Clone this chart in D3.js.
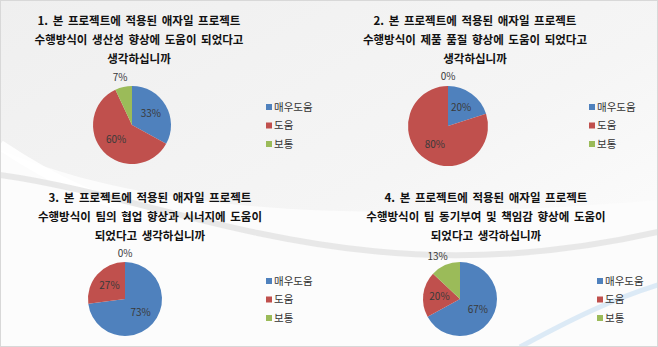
<!DOCTYPE html>
<html>
<head>
<meta charset="utf-8">
<script src="https://cdn.jsdelivr.net/npm/d3@7/dist/d3.min.js"></script>
<style>
html,body{margin:0;padding:0;background:#fff;}
svg{display:block;}
</style>
</head>
<body>
<svg id="chart" width="658" height="347"></svg>
<script>
// ---- data ----
const categories = ["매우도움", "도움", "보통"];
const colors = ["#4F81BD", "#C0504D", "#9BBB59"];
const title1 = ["1. 본 프로젝트에 적용된 애자일 프로젝트", "수행방식이 생산성 향상에 도움이 되었다고", "생각하십니까"];
const title2 = ["2. 본 프로젝트에 적용된 애자일 프로젝트", "수행방식이 제품 품질 향상에 도움이 되었다고", "생각하십니까"];
const title3 = ["3. 본 프로젝트에 적용된 애자일 프로젝트", "수행방식이 팀의 협업 향상과 시너지에 도움이", "되었다고 생각하십니까"];
const title4 = ["4. 본 프로젝트에 적용된 애자일 프로젝트", "수행방식이 팀 동기부여 및 책임감 향상에 도움이", "되었다고 생각하십니까"];
const values1 = [33, 60, 7];
const values2 = [20, 80, 0];
const values3 = [73, 27, 0];
const values4 = [67, 20, 13];

// ---- layout (positions only) ----
const panels = [
  {title: title1, values: values1, cx: 132, cy: 125, r: 39, tx: 139, ty: 25, lx: 266, ly: 107},
  {title: title2, values: values2, cx: 448, cy: 126, r: 40, tx: 475, ty: 25, lx: 589, ly: 107},
  {title: title3, values: values3, cx: 125, cy: 299, r: 37, tx: 150, ty: 202, lx: 266, ly: 281},
  {title: title4, values: values4, cx: 460, cy: 299, r: 37, tx: 486, ty: 202, lx: 597, ly: 281}
];

const svg = d3.select("#chart");
const W = 658, H = 347;

// ---- background ----
const defs = svg.append("defs");
const g1 = defs.append("linearGradient").attr("id", "bg").attr("x1", 0).attr("y1", 0).attr("x2", 1).attr("y2", 1);
g1.append("stop").attr("offset", "0%").attr("stop-color", "#efefef");
g1.append("stop").attr("offset", "55%").attr("stop-color", "#f5f5f5");
g1.append("stop").attr("offset", "100%").attr("stop-color", "#ffffff");
svg.append("rect").attr("width", W).attr("height", H).attr("fill", "url(#bg)");
svg.append("path")
  .attr("d", "M0,150 C120,200 300,230 658,200 L658,347 L0,347 Z")
  .attr("fill", "#fcfcfc");
svg.append("path")
  .attr("d", "M0,145 C60,185 100,200 150,215")
  .attr("fill", "none").attr("stroke", "#ffffff").attr("stroke-width", 10).attr("opacity", 0.9);
svg.append("path")
  .attr("d", "M0,175 C180,200 360,300 658,232")
  .attr("fill", "none").attr("stroke", "#e2e2e2").attr("stroke-width", 6).attr("opacity", 0.75);
svg.append("path")
  .attr("d", "M520,347 C570,320 610,300 658,285")
  .attr("fill", "none").attr("stroke", "#cfe2f3").attr("stroke-width", 5).attr("opacity", 0.7);
svg.append("rect").attr("x", 0.5).attr("y", 0.5).attr("width", W - 1).attr("height", H - 1)
  .attr("fill", "none").attr("stroke", "#d8d8d8");

const font = "'Noto Sans CJK KR', 'Noto Sans', sans-serif";
const pie = d3.pie().sort(null).value(d => d);

panels.forEach(p => {
  const g = svg.append("g");
  const t = g.append("text")
    .attr("x", p.tx).attr("y", p.ty)
    .attr("text-anchor", "middle")
    .attr("font-family", font).attr("font-weight", "bold")
    .attr("font-size", 11.5).attr("fill", "#111")
    .attr("word-spacing", 2);
  p.title.forEach((line, i) => {
    t.append("tspan").attr("x", p.tx).attr("dy", i === 0 ? 0 : 19).text(line);
  });

  const arc = d3.arc().innerRadius(0).outerRadius(p.r);
  const inArc = d3.arc().innerRadius(p.r * 0.56).outerRadius(p.r * 0.56);
  const outArc = d3.arc().innerRadius(p.r * 1.24).outerRadius(p.r * 1.24);
  const arcs = pie(p.values);
  const pg = g.append("g").attr("transform", `translate(${p.cx},${p.cy})`);
  pg.selectAll("path").data(arcs).enter().append("path")
    .attr("d", arc)
    .attr("fill", (d, i) => colors[i]);

  pg.selectAll("text").data(arcs).enter().append("text")
    .each(function(d) {
      const inside = d.data >= 15;
      const c = inside ? inArc.centroid(d) : outArc.centroid(d);
      let anchor = "middle", x = c[0];
      if (!inside && c[0] < -4) { anchor = "end"; x = c[0] + 6; }
      d3.select(this).attr("x", x).attr("y", c[1]).attr("text-anchor", anchor);
    })
    .attr("dy", "0.35em")
    .attr("font-family", font).attr("font-size", 10).attr("fill", "#3a3a3a")
    .text(d => d.data + "%");

  const lg = g.append("g").attr("transform", `translate(${p.lx},${p.ly})`);
  const items = lg.selectAll("g").data(categories).enter().append("g")
    .attr("transform", (d, i) => `translate(0,${i * 18.5})`);
  items.append("rect").attr("x", 0).attr("y", -3).attr("width", 6).attr("height", 6)
    .attr("fill", (d, i) => colors[i]);
  items.append("text").attr("x", 8).attr("y", 0).attr("dy", "0.35em")
    .attr("font-family", font).attr("font-size", 10.5).attr("fill", "#333")
    .text(d => d);
});
</script>
</body>
</html>
